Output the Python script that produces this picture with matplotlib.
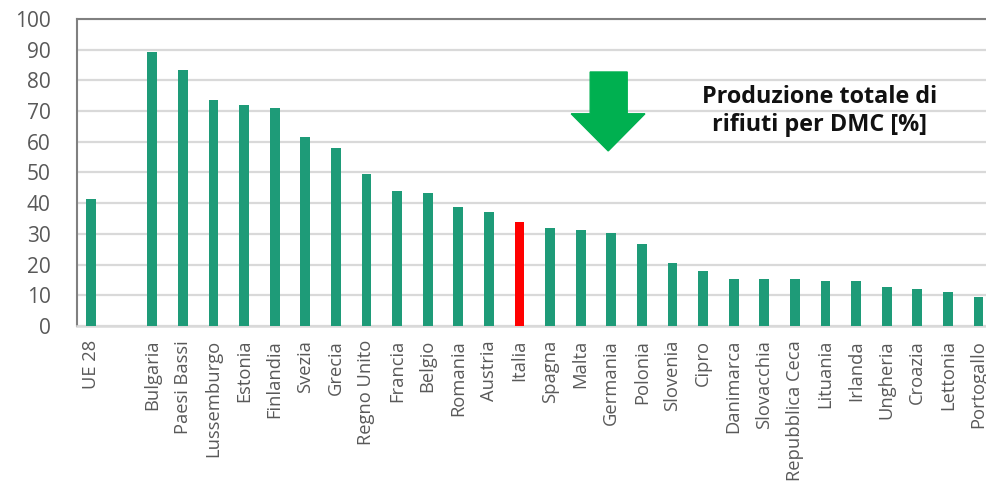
import matplotlib.pyplot as plt
import numpy as np

# Data
paesi = ['UE 28', '', 'Bulgaria', 'Paesi Bassi', 'Lussemburgo', 'Estonia', 'Finlandia',
         'Svezia', 'Grecia', 'Regno Unito', 'Francia', 'Belgio', 'Romania', 'Austria',
         'Italia', 'Spagna', 'Malta', 'Germania', 'Polonia', 'Slovenia', 'Cipro',
         'Danimarca', 'Slovacchia', 'Repubblica Ceca', 'Lituania', 'Irlanda',
         'Ungheria', 'Croazia', 'Lettonia', 'Portogallo']
valori = [41.4, np.nan, 89.1, 83.2, 73.6, 71.9, 71.0, 61.6, 58.0, 49.4, 44.1, 43.2,
          38.9, 37.1, 33.9, 31.9, 31.2, 30.2, 26.7, 20.6, 18.0, 15.4, 15.4, 15.4,
          14.6, 14.6, 12.8, 12.0, 11.1, 9.3]
evidenziato = 'Italia'

verde = '#1E9B78'
rosso = '#FF0000'
grigio_testo = '#595959'

plt.rcParams['font.family'] = ['Open Sans', 'DejaVu Sans']

fig = plt.figure(figsize=(9.87, 4.83), dpi=100)
ax = fig.add_axes([0.078, 0.325, 0.932, 0.636])

x = np.arange(len(paesi))
colori = [rosso if p == evidenziato else verde for p in paesi]
ax.bar(x, np.nan_to_num(valori), width=0.32, color=colori, zorder=3)

ax.set_xlim(-0.46, 29.6)
ax.set_ylim(0, 100)
ax.set_yticks(range(0, 101, 10))
ax.set_xticks(x)
ax.set_xticklabels(paesi, rotation=90, fontsize=13.2, color=grigio_testo, va='top')
ax.tick_params(axis='x', length=0, pad=10)
ax.tick_params(axis='y', length=0, pad=19, labelsize=15, labelcolor=grigio_testo)

ax.grid(axis='y', color='#D9D9D9', linewidth=1.6, zorder=0)
ax.spines['top'].set_color('#808080')
ax.spines['top'].set_linewidth(1.5)
ax.spines['left'].set_color('#808080')
ax.spines['left'].set_linewidth(1.5)
ax.spines['bottom'].set_color('#D9D9D9')
ax.spines['bottom'].set_linewidth(1.8)
ax.spines['right'].set_visible(False)

# Freccia verde verso il basso
ax.fill([16.31, 17.52, 17.52, 18.10, 16.90, 15.69, 16.31],
        [82.7, 82.7, 69.1, 69.1, 57.0, 69.1, 69.1],
        color='#00B050', zorder=4, clip_on=False)

ax.text(23.82, 70, 'Produzione totale di\nrifiuti per DMC [%]', ha='center', va='center',
        fontsize=16.8, fontweight='bold', color='#111111', linespacing=1.25, zorder=5)

plt.savefig('out.png', dpi=100)
